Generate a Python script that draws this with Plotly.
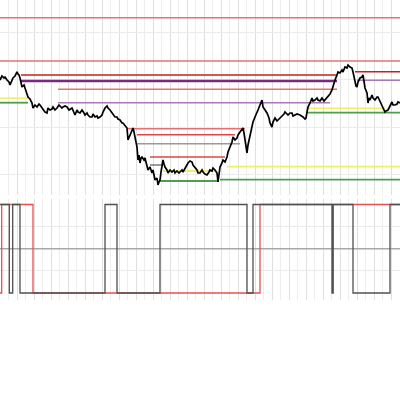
import plotly.graph_objects as go
from plotly.subplots import make_subplots

# ---- price series (bar index, close) ----
bar = [0,2,4,5,7,9,10,12,13,15,17,18,19,20,21,22,24,25,26,28,30,32,33,35,37,39,40,42,43,45,47,48,50,52,53,55,57,59,60,62,63,65,67,69,72,74,75,77,78,80,82,84,85,87,88,90,92,93,95,97,98,100,102,103,105,107,108,110,112,113,115,117,118,120,122,123,125,127,128,130,132,133,134,135,136,137,138,139,140,141,142,144,145,146,147,148,150,152,153,154,155,157,158,159,160,161,162,163,164,165,167,168,170,172,174,175,177,179,180,182,183,185,187,188,190,192,193,195,197,198,200,202,203,205,207,209,210,212,213,215,217,218,219,220,222,223,225,227,228,230,232,233,235,237,238,240,242,243,244,245,246,247,248,250,252,253,255,257,258,260,262,263,265,267,269,270,272,273,275,277,278,280,282,284,285,287,288,290,292,293,295,297,300,302,303,305,306,307,308,310,312,313,315,317,318,320,322,324,325,327,328,330,332,333,335,337,338,340,342,343,345,347,348,350,352,353,354,355,356,357,358,360,362,363,364,365,367,368,369,370,372,373,375,377,378,380,382,384,385,386,388,390,392,393,395,397,398,400]
close = [120,124,122,123,120,118,115,120,122,124,128,126,125,122,117,113,115,112,108,103,101,97,92,95,93,96,95,92,90,88,87,92,90,91,93,90,92,95,94,92,93,94,93,90,92,88,85,90,88,87,90,87,85,87,85,83,83,86,83,84,82,83,85,88,92,94,92,90,87,85,83,83,81,80,77,77,74,72,60,65,70,72,68,63,58,53,40,45,37,42,43,40,42,38,37,30,33,27,30,25,20,22,15,18,20,28,35,40,36,33,30,27,30,28,30,27,29,27,28,30,28,32,35,37,39,38,35,33,30,27,27,30,28,26,25,28,30,29,32,30,27,18,25,33,37,40,38,43,48,53,58,63,60,62,65,68,70,72,67,60,52,47,55,65,73,78,83,87,90,95,100,93,90,87,82,77,73,78,82,79,80,82,83,86,88,86,85,87,87,84,85,86,85,84,83,81,82,88,93,97,102,99,100,102,100,99,102,99,100,103,103,106,110,114,120,125,128,127,130,128,133,132,135,133,132,128,123,118,114,113,118,122,123,125,117,112,107,97,102,100,105,102,100,103,103,99,95,90,88,89,90,94,98,95,95,96,98,97]

# ---- support / resistance levels ----
level_price = [182.3, 139.0, 125.0, 128.3, 119.0, 119.7, 110.7, 97.3, 101.7, 97.3, 91.7, 87.3, 71.3, 65.3, 56.3, 43.0, 35.0, 29.0, 33.3, 19.0, 20.3]
level_start = [0, 0, 21, 355, 21, 357, 58, 58, 0, 0, 307, 307, 128, 137, 137, 150, 150, 163, 227, 160, 220]
level_end   = [400, 400, 337, 400, 337, 400, 337, 330, 28, 28, 385, 400, 245, 235, 240, 225, 163, 215, 400, 218, 400]
level_kind  = ["res", "res", "res_strong", "res_strong", "pivot_strong", "pivot", "res", "pivot", "sup_weak", "sup", "sup_weak", "sup", "res", "res_mid", "mid", "res_mid", "mid_dark", "sup_weak", "sup_weak", "sup", "sup"]

# ---- signal steps ----
black_x = [0, 9.3, 12.7, 20, 105, 117, 160, 247, 253, 332, 333.2, 353, 390, 400]
black_v = [1, 0, 1, 0, 1, 0, 1, 0, 1, 0, 1, 0, 1, 1]
red_x = [0, 1.7, 33, 260, 400]
red_v = [0, 1, 0, 1, 1]

kind_style = {
    "res": ("#e47272", 1.6),
    "res_strong": ("#c81e1e", 1.6),
    "res_mid": ("#dc4646", 1.4),
    "pivot_strong": ("#7a2a7e", 2.4),
    "pivot": ("#a77ab4", 1.4),
    "sup_weak": ("#f0ef6a", 1.8),
    "sup": ("#4e9e4e", 1.8),
    "mid": ("#9a9a9a", 1.6),
    "mid_dark": ("#707070", 1.4),
}

fig = make_subplots(rows=2, cols=1, shared_xaxes=False, vertical_spacing=0.0)

for p, x0, x1, k in zip(level_price, level_start, level_end, level_kind):
    c, w = kind_style[k]
    fig.add_trace(go.Scatter(x=[x0, x1], y=[p, p], mode="lines",
                             line=dict(color=c, width=w), hoverinfo="skip"), row=1, col=1)

fig.add_trace(go.Scatter(x=bar, y=close, mode="lines",
                         line=dict(color="#000000", width=1.7)), row=1, col=1)

fig.add_trace(go.Scatter(x=[0, 400], y=[0.5, 0.5], mode="lines",
                         line=dict(color="#a8a8a8", width=1.4)), row=2, col=1)
fig.add_trace(go.Scatter(x=red_x, y=red_v, mode="lines", line_shape="hv",
                         line=dict(color="#e85050", width=1.3)), row=2, col=1)
fig.add_trace(go.Scatter(x=black_x, y=black_v, mode="lines", line_shape="hv",
                         line=dict(color="#505050", width=1.3)), row=2, col=1)

xa = dict(range=[0, 400], showticklabels=False, showline=False, zeroline=False,
          showgrid=True, gridcolor="#e0e0e0", gridwidth=1, tick0=0, dtick=17,
          minor=dict(showgrid=True, gridcolor="#eeeeee", gridwidth=1, tick0=8.5, dtick=17),
          ticks="")
fig.update_xaxes(**xa)
fig.update_layout(
    xaxis=dict(domain=[0, 1]),
    yaxis=dict(domain=[0.5125, 1.0], range=[5, 200], showticklabels=False, zeroline=False,
               showgrid=True, gridcolor="#ebebeb", tick0=25.5, dtick=47.5, showline=False),
    xaxis2=dict(domain=[0, 1]),
    yaxis2=dict(domain=[0.25, 0.5025], range=[-0.079, 1.062], showticklabels=False, zeroline=False,
                showgrid=True, gridcolor="#ebebeb", tickmode="array", tickvals=[0.25, 0.75], showline=False),
    width=400, height=400,
    margin=dict(l=0, r=0, t=0, b=0),
    paper_bgcolor="white", plot_bgcolor="white",
    showlegend=False,
    hovermode=False,
)

fig.write_html("out.html", config={"displayModeBar": False},
               post_script="document.body.style.margin='0';")
